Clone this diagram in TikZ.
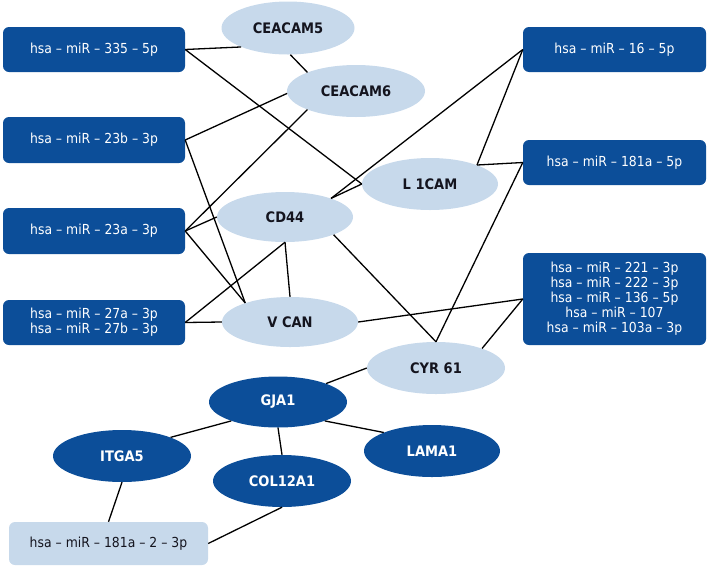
\documentclass[tikz,border=0pt]{standalone}
\usepackage{fontspec}
\setmainfont[FakeStretch=0.9]{DejaVu Sans}
\usetikzlibrary{shapes.geometric}
\definecolor{darkb}{RGB}{12,78,153}
\definecolor{lightb}{RGB}{199,217,235}
\definecolor{labk}{RGB}{20,20,30}
\tikzset{
  mirbox/.style={rectangle, rounded corners=6pt, fill=darkb, text=white, inner sep=0pt,
    minimum width=182pt, minimum height=45pt, align=center,
    font=\fontsize{13.8}{15}\selectfont},
  mirlight/.style={mirbox, fill=lightb, text=labk},
  gene/.style={ellipse, fill=lightb, text=labk, inner sep=0pt,
    minimum width=136pt, minimum height=52pt, font=\fontsize{14.5}{16}\selectfont\bfseries},
  genedark/.style={gene, fill=darkb, text=white},
  link/.style={draw=black, line width=1.3pt}
}
\begin{document}
\begin{tikzpicture}[x=1pt,y=-1pt]
\useasboundingbox (0,0) rectangle (709,568);
% miRNA boxes
\node[mirbox] (m335) at (94,49.5) {hsa -- miR -- 335 -- 5p};
\node[mirbox, minimum height=46pt] (m23b) at (94,140) {hsa -- miR -- 23b -- 3p};
\node[mirbox, minimum height=46pt] (m23a) at (94,231) {hsa -- miR -- 23a -- 3p};
\node[mirbox] (m27) at (94,322.5) {hsa -- miR -- 27a -- 3p\\hsa -- miR -- 27b -- 3p};
\node[mirbox, minimum width=183pt] (m16) at (614.5,49.5) {hsa -- miR -- 16 -- 5p};
\node[mirbox, minimum width=183pt] (m181a) at (614.5,162.5) {hsa -- miR -- 181a -- 5p};
\node[mirbox, minimum width=183pt, minimum height=92pt] (m221) at (614.5,299)
  {hsa -- miR -- 221 -- 3p\\hsa -- miR -- 222 -- 3p\\hsa -- miR -- 136 -- 5p\\hsa -- miR -- 107\\hsa -- miR -- 103a -- 3p};
\node[mirlight, minimum width=199pt, minimum height=43pt] (m1812) at (108.5,543.5) {hsa -- miR -- 181a -- 2 -- 3p};
% genes
\node[gene, minimum width=133pt, minimum height=53pt] (ceacam5) at (288,28) {CEACAM5};
\node[gene, minimum width=138pt] (ceacam6) at (356,91) {CEACAM6};
\node[gene] (l1cam) at (430,184) {L 1CAM};
\node[gene, minimum height=50pt] (cd44) at (285,217) {CD44};
\node[gene, minimum height=50pt] (vcan) at (290,322) {V CAN};
\node[gene, minimum width=138pt] (cyr61) at (436,368) {CYR 61};
\node[genedark, minimum width=138pt, minimum height=51pt] (gja1) at (278,402) {GJA1};
\node[genedark, minimum width=138pt] (itga5) at (122,456) {ITGA5};
\node[genedark, minimum width=138pt] (col12a1) at (282,481) {COL12A1};
\node[genedark] (lama1) at (432,451) {LAMA1};
% connectors
\draw[link] (m335.east) -- (ceacam5.202);
\draw[link] (m335.east) -- (l1cam.180);
\draw[link] (ceacam5.275) -- (ceacam6.159);
\draw[link] (m23b.east) -- (ceacam6.182);
\draw[link] (m23b.east) -- (vcan.157);
\draw[link] (m23a.east) -- (ceacam6.201);
\draw[link] (m23a.east) -- (cd44.180);
\draw[link] (m23a.east) -- (vcan.157);
\draw[link] (m27.east) -- (cd44.270);
\draw[link] (m27.east) -- (vcan.180);
\draw[link] (cd44.270) -- (vcan.90);
\draw[link] (cd44.22) -- (m16.west);
\draw[link] (cd44.22) -- (l1cam.180);
\draw[link] (cd44.340) -- (cyr61.90);
\draw[link] (m16.west) -- (l1cam.22);
\draw[link] (l1cam.22) -- (m181a.west);
\draw[link] (m181a.west) -- (cyr61.90);
\draw[link] (vcan.0) -- (m221.west);
\draw[link] (cyr61.23) -- (m221.west);
\draw[link] (cyr61.180) -- (gja1.21);
\draw[link] (gja1.202) -- (itga5.21);
\draw[link] (gja1.270) -- (col12a1.90);
\draw[link] (gja1.338) -- (lama1.159);
\draw[link] (itga5.270) -- (m1812.north);
\draw[link] (col12a1.270) -- (m1812.east);
\end{tikzpicture}
\end{document}
